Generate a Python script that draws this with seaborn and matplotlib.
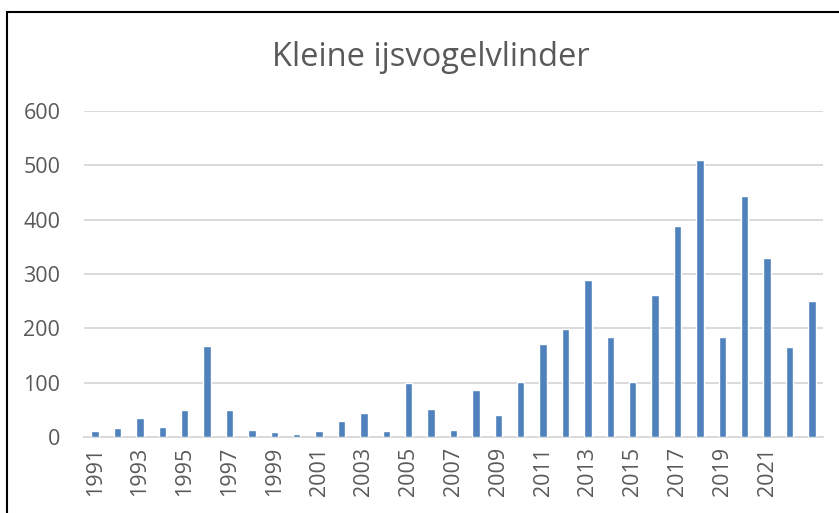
import pandas as pd
import matplotlib
matplotlib.use('Agg')
import matplotlib.pyplot as plt
import seaborn as sns
from matplotlib.patches import Rectangle

# jaren en aantallen
jaren = list(range(1991, 2024))
aantallen = [12, 17, 35, 19, 49, 167, 50, 13, 9, 6, 11, 30, 44, 11, 99,
             52, 13, 86, 40, 102, 172, 199, 289, 184, 102, 261, 388, 510,
             185, 443, 330, 165, 250]
ytikken = [0, 100, 200, 300, 400, 500, 600]

df = pd.DataFrame({'jaar': [str(j) for j in jaren], 'aantal': aantallen})

sns.set_style('white')
plt.rcParams['font.family'] = ['Open Sans', 'DejaVu Sans']

fig = plt.figure(figsize=(8.39, 5.13), dpi=100)
ax = fig.add_axes([0.1001, 0.148, 0.881, 0.6355])

sns.barplot(data=df, x='jaar', y='aantal', color='#4f81bd', saturation=1,
            width=0.33, ax=ax, zorder=3)

ax.set_ylim(0, 600)
ax.set_xlim(-0.5, len(jaren) - 0.5)
ax.set_yticks(ytikken)
ax.set_yticklabels([str(t) for t in ytikken], fontsize=15.5, color='#595959')
labels = [str(j) if i % 2 == 0 and j != 2023 else '' for i, j in enumerate(jaren)]
ax.set_xticks(range(len(jaren)))
ax.set_xticklabels(labels, rotation=90, fontsize=15.5, color='#595959')
ax.tick_params(axis='y', length=0, pad=17)
ax.tick_params(axis='x', length=0, pad=7)
ax.grid(axis='y', color='#d9d9d9', linewidth=1.4, zorder=0)
for s in ['top', 'right', 'left']:
    ax.spines[s].set_visible(False)
ax.spines['bottom'].set_color('#d9d9d9')
ax.spines['bottom'].set_linewidth(1.4)
ax.set_xlabel('')
ax.set_ylabel('')

fig.text(0.513, 0.887, 'Kleine ijsvogelvlinder', ha='center', va='center',
         fontsize=23.5, color='#595959')

# zwarte rand om de grafiek
fig.patches.append(Rectangle((7 / 839, -0.1), 1.2, 1 - 12 / 513 + 0.1,
                             transform=fig.transFigure, fill=False,
                             edgecolor='black', linewidth=1.5))

fig.savefig('out.png', dpi=100)
